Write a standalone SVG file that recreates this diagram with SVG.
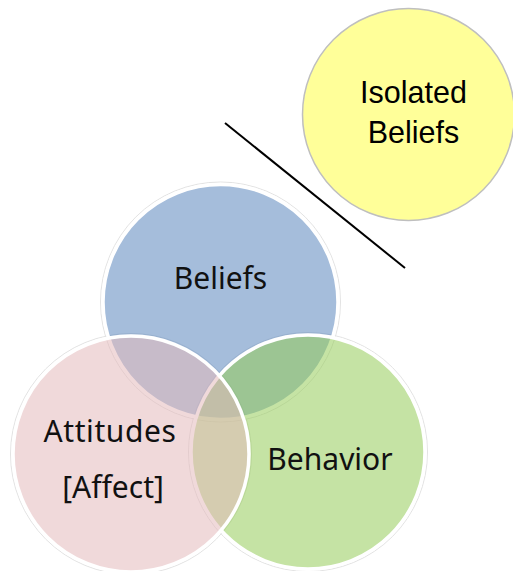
<svg xmlns="http://www.w3.org/2000/svg" width="513" height="571" viewBox="0 0 513 571">
  <style>
    .halo { fill: none; stroke: #e3e3e3; stroke-width: 1; }
    .venn { stroke: #ffffff; stroke-width: 3.5; fill-opacity: 0.54; }
    .lbl { font-family: "Noto Sans", "Open Sans", sans-serif; font-size: 30px; fill: #111111; text-anchor: middle; }
    .iso { font-family: "Liberation Sans", Arial, sans-serif; font-size: 30.5px; fill: #000000; text-anchor: middle; }
  </style>
  <rect width="513" height="571" fill="#ffffff"/>
  <g id="connectors">
    <line x1="225" y1="123" x2="405" y2="268" stroke="#000000" stroke-width="2"/>
  </g>
  <g id="halos">
    <circle class="halo" cx="220.5" cy="302" r="120"/>
    <circle class="halo" cx="131" cy="454" r="120.5"/>
    <circle class="halo" cx="308" cy="452" r="119.5"/>
  </g>
  <g id="beliefs">
    <circle class="venn" cx="220.5" cy="302" r="117.5" fill="rgb(88,133,188)"/>
    <text class="lbl" x="220.5" y="288.5">Beliefs</text>
  </g>
  <g id="behavior">
    <circle class="venn" cx="308" cy="452" r="117" fill="rgb(148,203,86)"/>
  </g>
  <g id="attitudes">
    <circle class="venn" cx="131" cy="454" r="118" fill="rgb(227,185,186)"/>
  </g>
  <g id="labels">
    <text class="lbl" x="110" y="441.5" style="letter-spacing:0.6px">Attitudes</text>
    <text class="lbl" x="113" y="497.5">[Affect]</text>
    <text class="lbl" x="330" y="469.5">Behavior</text>
  </g>
  <g id="isolated-beliefs">
    <circle cx="408.5" cy="114.5" r="106" fill="#ffff99" stroke="#bfbfbf" stroke-width="1.5"/>
    <text class="iso" x="413.5" y="102.5">Isolated</text>
    <text class="iso" x="413.5" y="142.5">Beliefs</text>
  </g>
</svg>
